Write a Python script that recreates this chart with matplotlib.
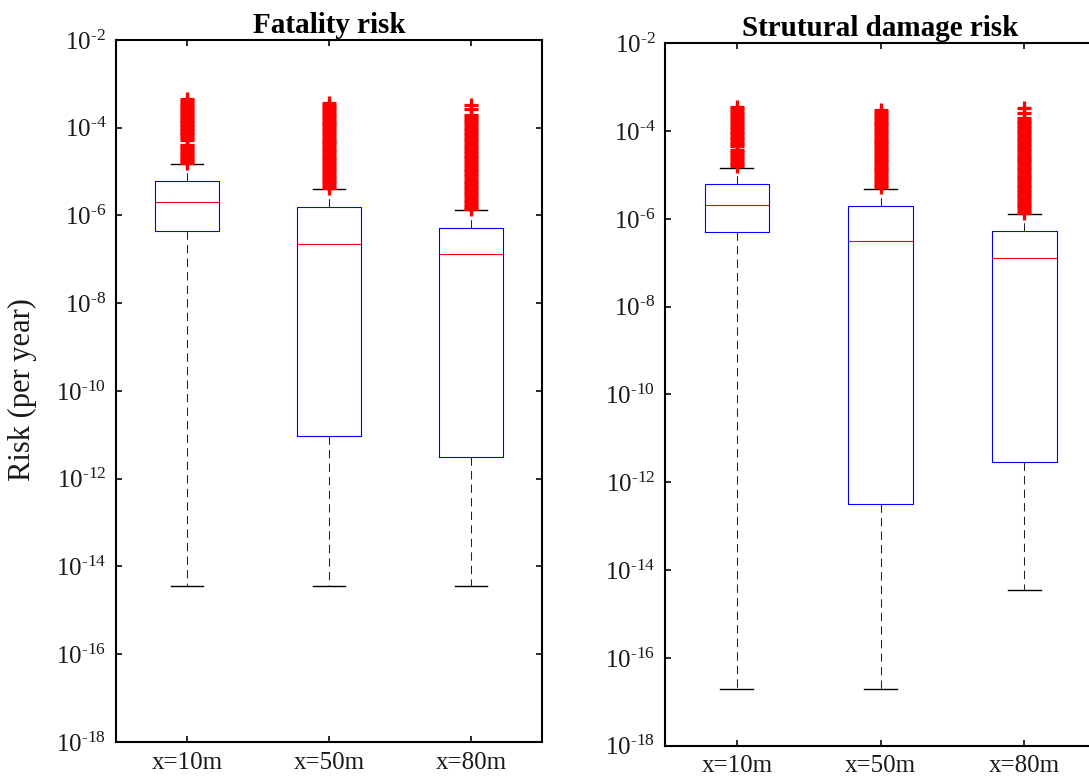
import numpy as np
import matplotlib
matplotlib.use("Agg")
import matplotlib.pyplot as plt

plt.rcParams['font.family'] = ['Liberation Serif', 'DejaVu Serif']
plt.rcParams['mathtext.fontset'] = 'custom'
plt.rcParams['mathtext.rm'] = 'Liberation Serif'
plt.rcParams['mathtext.default'] = 'regular'

# distances from the source
labels = ['x=10m', 'x=50m', 'x=80m']

# box statistics, given as log10 of the risk per year
fat_q1 = [-6.35, -11.03, -11.51]
fat_med = [-5.70, -6.65, -6.87]
fat_q3 = [-5.21, -5.80, -6.28]
fat_wlo = [-14.44, -14.44, -14.44]
fat_whi = [-4.83, -5.40, -5.88]

str_q1 = [-6.29, -12.49, -11.53]
str_med = [-5.68, -6.50, -6.90]
str_q3 = [-5.20, -5.71, -6.28]
str_wlo = [-16.72, -16.72, -14.46]
str_whi = [-4.83, -5.31, -5.90]

# outliers above the upper whisker (log10)
fat_out_10 = [-3.34, -3.39, -3.43, -3.48, -3.53, -3.57, -3.61, -3.66, -3.71, -3.75,
              -3.80, -3.84, -3.88, -3.93, -3.97, -4.02, -4.06, -4.11, -4.15, -4.19,
              -4.24, -4.28, -4.40, -4.44, -4.49, -4.53, -4.58, -4.62, -4.67, -4.71,
              -4.76, -4.80]
fat_out_50 = [-3.44, -3.50, -3.56, -3.62, -3.68, -3.74, -3.80, -3.86, -3.91, -3.97,
              -4.03, -4.09, -4.15, -4.21, -4.27, -4.33, -4.38, -4.44, -4.50, -4.56,
              -4.62, -4.68, -4.74, -4.80, -4.85, -4.91, -4.97, -5.03, -5.09, -5.15,
              -5.21, -5.27, -5.32, -5.37]
fat_out_80 = [-3.48, -3.57, -3.71, -3.76, -3.82, -3.88, -3.94, -4.00, -4.06, -4.12,
              -4.17, -4.23, -4.29, -4.35, -4.41, -4.47, -4.53, -4.58, -4.64, -4.70,
              -4.76, -4.82, -4.88, -4.94, -4.99, -5.05, -5.11, -5.17, -5.23, -5.29,
              -5.35, -5.40, -5.46, -5.52, -5.58, -5.64, -5.70, -5.76, -5.81, -5.86]

str_out_10 = [-3.45, -3.50, -3.56, -3.62, -3.67, -3.73, -3.79, -3.84, -3.90, -3.96,
              -4.01, -4.07, -4.13, -4.18, -4.24, -4.30, -4.35, -4.42, -4.47, -4.53,
              -4.58, -4.64, -4.70, -4.75, -4.80]
str_out_50 = [-3.52, -3.58, -3.64, -3.70, -3.76, -3.82, -3.87, -3.93, -3.99, -4.05,
              -4.11, -4.17, -4.22, -4.28, -4.34, -4.40, -4.46, -4.52, -4.57, -4.63,
              -4.69, -4.75, -4.81, -4.87, -4.92, -4.98, -5.04, -5.10, -5.16, -5.22,
              -5.27]
str_out_80 = [-3.48, -3.59, -3.70, -3.76, -3.82, -3.88, -3.94, -3.99, -4.05, -4.11,
              -4.17, -4.23, -4.29, -4.34, -4.40, -4.46, -4.52, -4.58, -4.64, -4.69,
              -4.75, -4.81, -4.87, -4.93, -4.99, -5.04, -5.10, -5.16, -5.22, -5.28,
              -5.34, -5.39, -5.45, -5.51, -5.57, -5.63, -5.69, -5.74, -5.80, -5.86]

# y tick exponents
decades = list(range(-18, -1, 2))


def make_stats(q1, med, q3, wlo, whi, outs):
    stats = []
    for i in range(len(labels)):
        stats.append(dict(q1=10 ** q1[i], med=10 ** med[i], q3=10 ** q3[i],
                          whislo=10 ** wlo[i], whishi=10 ** whi[i],
                          fliers=10 ** np.array(outs[i]), label=labels[i]))
    return stats


def draw_panel(ax, stats, title):
    ax.bxp(stats, positions=[1, 2, 3], widths=0.45, capwidths=0.23,
           boxprops=dict(color='blue', linewidth=0.8),
           medianprops=dict(color='red', linewidth=0.8),
           whiskerprops=dict(color='#222222', linewidth=0.75, linestyle=(0, (8, 5))),
           capprops=dict(color='black', linewidth=1.0),
           flierprops=dict(marker='+', markersize=9.5, markeredgecolor='red',
                           markeredgewidth=2.3, linestyle='none'))
    ax.set_yscale('log')
    ax.set_ylim(1e-18, 1e-2)
    ax.set_xlim(0.5, 3.5)
    ax.set_yticks([10.0 ** e for e in decades])
    # hyphen in the exponent, like the original figure
    ax.set_yticklabels([r'$10^{\text{%d}}$' % e for e in decades])
    ax.yaxis.set_minor_locator(matplotlib.ticker.NullLocator())
    ax.set_xticks([1, 2, 3])
    ax.set_xticklabels(labels)
    ax.tick_params(direction='in', length=4.5, width=1.3, labelsize=18,
                   top=True, right=True, pad=7, colors='#1a1a1a')
    for sp in ax.spines.values():
        sp.set_linewidth(1.5)
    ax.set_title(title, fontsize=21, fontweight='bold', pad=5)


fig = plt.figure(figsize=(10.89, 7.84), dpi=100)
ax1 = fig.add_axes([0.1065, 0.0536, 0.3912, 0.8954])
ax2 = fig.add_axes([0.6107, 0.0489, 0.3958, 0.8959])

draw_panel(ax1, make_stats(fat_q1, fat_med, fat_q3, fat_wlo, fat_whi,
                           [fat_out_10, fat_out_50, fat_out_80]), 'Fatality risk')
draw_panel(ax2, make_stats(str_q1, str_med, str_q3, str_wlo, str_whi,
                           [str_out_10, str_out_50, str_out_80]), 'Strutural damage risk')

fig.text(22 / 1089, 1 - 390 / 784, 'Risk (per year)', rotation=90,
         ha='center', va='center', fontsize=22, color='#1a1a1a')

fig.savefig('out.png', dpi=100)
